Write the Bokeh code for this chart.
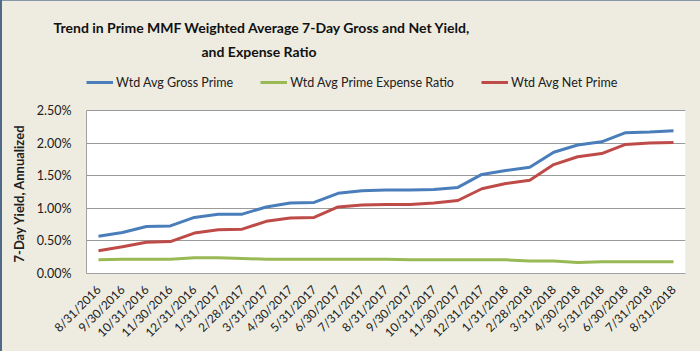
import math
from bokeh.plotting import figure
from bokeh.models import FactorRange, Range1d, FixedTicker, Title, Legend, LegendItem, BoxAnnotation
from bokeh.embed import file_html
from bokeh.resources import INLINE

dates = ["8/31/2016", "9/30/2016", "10/31/2016", "11/30/2016", "12/31/2016",
         "1/31/2017", "2/28/2017", "3/31/2017", "4/30/2017", "5/31/2017",
         "6/30/2017", "7/31/2017", "8/31/2017", "9/30/2017", "10/31/2017",
         "11/30/2017", "12/31/2017", "1/31/2018", "2/28/2018", "3/31/2018",
         "4/30/2018", "5/31/2018", "6/30/2018", "7/31/2018", "8/31/2018"]
gross = [0.57, 0.63, 0.72, 0.73, 0.86, 0.91, 0.91, 1.02, 1.08, 1.09,
         1.23, 1.27, 1.28, 1.28, 1.29, 1.32, 1.52, 1.58, 1.63, 1.86,
         1.97, 2.02, 2.16, 2.17, 2.19]
expense = [0.21, 0.22, 0.22, 0.22, 0.24, 0.24, 0.23, 0.22, 0.22, 0.22,
           0.22, 0.22, 0.22, 0.21, 0.21, 0.21, 0.21, 0.21, 0.19, 0.19,
           0.17, 0.18, 0.18, 0.18, 0.18]
net = [0.35, 0.41, 0.48, 0.49, 0.62, 0.67, 0.68, 0.80, 0.85, 0.86,
       1.02, 1.05, 1.06, 1.06, 1.08, 1.12, 1.30, 1.38, 1.43, 1.67,
       1.79, 1.84, 1.98, 2.00, 2.01]
y_ticks = [0, 0.5, 1.0, 1.5, 2.0, 2.5]
y_tick_labels = ["0.00%", "0.50%", "1.00%", "1.50%", "2.00%", "2.50%"]
series_names = ["Wtd Avg Gross Prime", "Wtd Avg Prime Expense Ratio", "Wtd Avg Net Prime"]
title_lines = ["Trend in Prime MMF Weighted Average 7-Day Gross and Net Yield,",
               "and Expense Ratio"]
y_label = "7-Day Yield, Annualized"

FONT = "Lato"
BG = "#eeece1"
Y_MAX = 2.5

# layout (pixels)
W, H = 700, 351
FRAME_TOP = 63          # top of frame (holds legend strip above the plot area)
PLOT_TOP = 110          # top of white plot area (y = 2.5%)
PLOT_BOTTOM = 273       # y = 0
y_end = Y_MAX * (PLOT_BOTTOM - FRAME_TOP) / (PLOT_BOTTOM - PLOT_TOP)

p = figure(width=W, height=H, x_range=FactorRange(*dates), y_range=Range1d(0, y_end),
           output_backend="svg", toolbar_location=None, title=None,
           min_border_left=86, min_border_right=15, min_border_top=FRAME_TOP,
           min_border_bottom=H - PLOT_BOTTOM)
p.border_fill_alpha = 0
p.styles = {"background": "linear-gradient(to right, #4d6a89 0px, #4d6a89 2px, transparent 2px), "
                          "linear-gradient(to bottom, #8797aa 0px, #8797aa 1px, transparent 1px), "
                          + BG}
p.background_fill_color = BG
p.outline_line_color = None

plot_area = BoxAnnotation(bottom=0, top=Y_MAX, fill_color="white", fill_alpha=1,
                          line_color=None, level="underlay")
p.center = [plot_area] + list(p.center)

r1 = p.line(dates, gross, line_color="#4a7ebb", line_width=3)
r2 = p.line(dates, expense, line_color="#98b954", line_width=3)
r3 = p.line(dates, net, line_color="#be4b48", line_width=3)

ticker = FixedTicker(ticks=y_ticks)
p.xgrid.grid_line_color = None
p.ygrid.ticker = ticker
p.ygrid.grid_line_color = "#9a9a9a"
p.ygrid.grid_line_width = 1
p.yaxis.ticker = ticker
p.yaxis.bounds = (0, Y_MAX)
p.yaxis.major_label_overrides = {t: l for t, l in zip(y_ticks, y_tick_labels)}
for ax in (p.xaxis[0], p.yaxis[0]):
    ax.axis_line_color = "#a0a0a0"
    ax.major_tick_line_color = None
    ax.minor_tick_line_color = None
    ax.major_label_text_font = FONT
    ax.major_label_text_color = "#202020"
p.yaxis.major_label_text_font_size = "12.5px"
p.yaxis.major_label_standoff = 9
p.xaxis.major_label_orientation = math.pi / 4
p.xaxis.major_label_text_font_size = "12px"
p.xaxis.major_label_standoff = 8

# y-axis title, centred on the plot area (not on the taller frame)
p.add_layout(Title(text=y_label, align="left", offset=11, standoff=12, vertical_align="middle",
                   text_font=FONT, text_font_style="bold", text_font_size="13px",
                   text_color="#202020"), "left")

legend = Legend(items=[LegendItem(label=series_names[0], renderers=[r1]),
                       LegendItem(label=series_names[1], renderers=[r2]),
                       LegendItem(label=series_names[2], renderers=[r3])],
                orientation="horizontal", location=(0, PLOT_BOTTOM - 82 - 8),
                background_fill_alpha=0, border_line_color=None,
                padding=0, margin=0, spacing=27, glyph_width=27, glyph_height=16,
                label_height=16, label_standoff=3, label_text_font=FONT,
                label_text_font_size="12.5px", label_text_color="#202020")
p.add_layout(legend, "center")

for t, off in zip(reversed(title_lines), [115, -33]):
    p.add_layout(Title(text=t, align="left", offset=off, standoff=5, vertical_align="middle",
                       text_font=FONT, text_font_style="bold", text_font_size="14px",
                       text_color="#111111"), "above")

open("out.html", "w").write(file_html(p, INLINE))
